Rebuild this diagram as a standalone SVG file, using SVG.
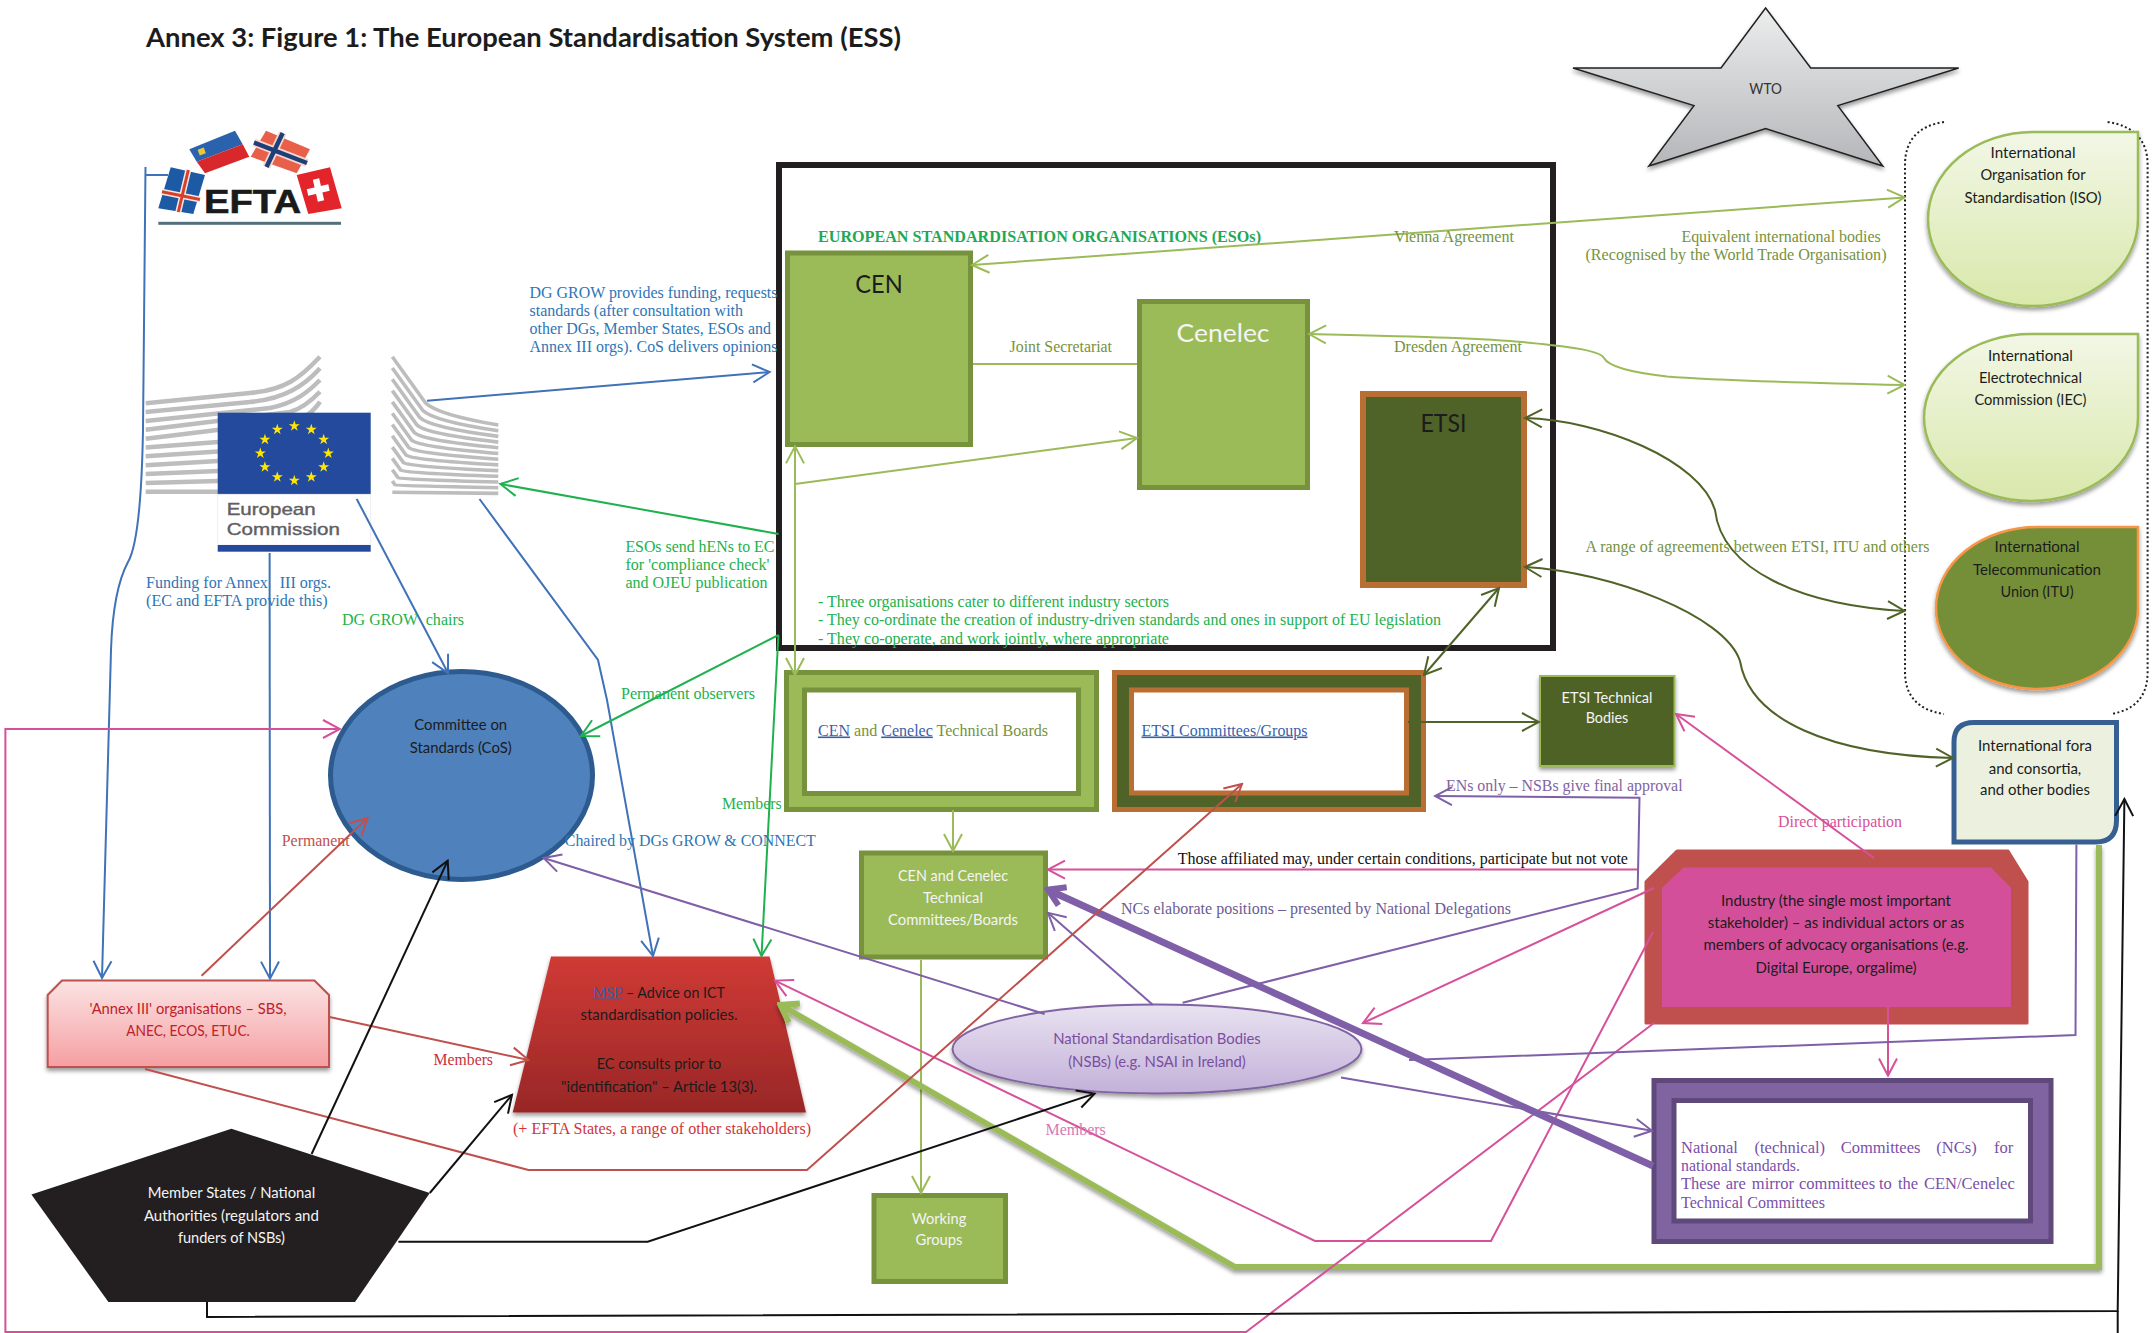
<svg xmlns="http://www.w3.org/2000/svg" width="2154" height="1333" viewBox="0 0 2154 1333">
<style>
text{white-space:pre}
.s{font-family:"Liberation Serif","Times New Roman",serif;font-size:16px}
.l{font-family:Lato,"Noto Sans",sans-serif;font-size:15px}
.m{text-anchor:middle}
.lk{fill:#3a5fa8;text-decoration:underline}
.c{fill:none;stroke-width:2;stroke-linejoin:miter}
.bl{stroke:#3f72b8}.gr{stroke:#1fb14f}.lg{stroke:#9bbb59}.dg{stroke:#4f6228}.pk{stroke:#d6509a}.pu{stroke:#7f5fa8}.rd{stroke:#c0504d}.bk{stroke:#111}
.tb{fill:#2e75b6}.tg{fill:#22b14c}.to{fill:#76923c}.tp{fill:#8064a2}.tr{fill:#c0504d}
.box{fill:#9bbb59;stroke:#76923c;stroke-width:5}
.st{fill:none;stroke:#bdbdbd;stroke-width:4.5}
.sr{fill:none;stroke:#bdbdbd;stroke-width:3.6}
.wt{fill:#f4f4f4}.dk{fill:#1c1c1c}
.ec{font-family:"Liberation Sans",Arial,sans-serif;font-size:17px;fill:#5f6062;stroke:#5f6062;stroke-width:.4}
</style>
<defs>
<linearGradient id="gLight" x1="0" y1="0" x2="0" y2="1"><stop offset="0" stop-color="#f2f7e6"/><stop offset="1" stop-color="#d9e8ab"/></linearGradient>
<linearGradient id="gStar" x1="0" y1="0" x2="0" y2="1"><stop offset="0" stop-color="#eceded"/><stop offset="1" stop-color="#b4b6b9"/></linearGradient>
<linearGradient id="gAnnex" x1="0" y1="0" x2="0" y2="1"><stop offset="0" stop-color="#fbe3e3"/><stop offset="1" stop-color="#f59fa2"/></linearGradient>
<linearGradient id="gMsp" x1="0" y1="0" x2="0" y2="1"><stop offset="0" stop-color="#d03a35"/><stop offset="1" stop-color="#982727"/></linearGradient>
<linearGradient id="gNsb" x1="0" y1="0" x2="0" y2="1"><stop offset="0" stop-color="#e8e2f1"/><stop offset="1" stop-color="#c3b1d9"/></linearGradient>
<filter id="sh" x="-10%" y="-10%" width="120%" height="125%"><feDropShadow dx="0" dy="3" stdDeviation="2" flood-color="#000" flood-opacity="0.4"/></filter>
<path id="eustar" d="M0,-5.8 1.3,-1.8 5.5,-1.8 2.1,.7 3.4,4.7 0,2.2 -3.4,4.7 -2.1,.7 -5.5,-1.8 -1.3,-1.8Z" fill="#ffe600"/>
<marker id="ab" viewBox="-20 -12 22 24" refX="0" refY="0" markerWidth="22" markerHeight="24" markerUnits="userSpaceOnUse" orient="auto-start-reverse"><path d="M-17,-9 L0,0 L-17,9" fill="none" stroke="#3f72b8" stroke-width="2"/></marker>
<marker id="ag" viewBox="-20 -12 22 24" refX="0" refY="0" markerWidth="22" markerHeight="24" markerUnits="userSpaceOnUse" orient="auto-start-reverse"><path d="M-17,-9 L0,0 L-17,9" fill="none" stroke="#1fb14f" stroke-width="2"/></marker>
<marker id="alg" viewBox="-20 -12 22 24" refX="0" refY="0" markerWidth="22" markerHeight="24" markerUnits="userSpaceOnUse" orient="auto-start-reverse"><path d="M-17,-9 L0,0 L-17,9" fill="none" stroke="#9bbb59" stroke-width="2"/></marker>
<marker id="adg" viewBox="-20 -12 22 24" refX="0" refY="0" markerWidth="22" markerHeight="24" markerUnits="userSpaceOnUse" orient="auto-start-reverse"><path d="M-17,-9 L0,0 L-17,9" fill="none" stroke="#4f6228" stroke-width="2"/></marker>
<marker id="ap" viewBox="-20 -12 22 24" refX="0" refY="0" markerWidth="22" markerHeight="24" markerUnits="userSpaceOnUse" orient="auto-start-reverse"><path d="M-17,-9 L0,0 L-17,9" fill="none" stroke="#d6509a" stroke-width="2"/></marker>
<marker id="au" viewBox="-20 -12 22 24" refX="0" refY="0" markerWidth="22" markerHeight="24" markerUnits="userSpaceOnUse" orient="auto-start-reverse"><path d="M-17,-9 L0,0 L-17,9" fill="none" stroke="#7f5fa8" stroke-width="2"/></marker>
<marker id="ar" viewBox="-20 -12 22 24" refX="0" refY="0" markerWidth="22" markerHeight="24" markerUnits="userSpaceOnUse" orient="auto-start-reverse"><path d="M-17,-9 L0,0 L-17,9" fill="none" stroke="#c0504d" stroke-width="2"/></marker>
<marker id="ak" viewBox="-20 -12 22 24" refX="0" refY="0" markerWidth="22" markerHeight="24" markerUnits="userSpaceOnUse" orient="auto-start-reverse"><path d="M-17,-9 L0,0 L-17,9" fill="none" stroke="#111" stroke-width="2"/></marker>
<marker id="aU" viewBox="-20 -14 24 28" refX="0" refY="0" markerWidth="24" markerHeight="28" markerUnits="userSpaceOnUse" orient="auto"><path d="M-16,-10 L0,0 L-16,10" fill="none" stroke="#7f5fa8" stroke-width="6"/></marker>
<marker id="aL" viewBox="-20 -14 24 28" refX="0" refY="0" markerWidth="24" markerHeight="28" markerUnits="userSpaceOnUse" orient="auto"><path d="M-16,-11 L0,0 L-16,11" fill="none" stroke="#9bbb59" stroke-width="6"/></marker>
</defs>
<rect width="2154" height="1333" fill="#fff"/>

<text id="title" x="146" y="47" textLength="755" lengthAdjust="spacingAndGlyphs" font-family="Lato,'Noto Sans',sans-serif" font-weight="700" font-size="27" fill="#1c1c1c">Annex 3: Figure 1: The European Standardisation System (ESS)</text>

<g id="eso-frame"><rect x="779" y="165" width="774" height="483" fill="#fff" stroke="#231f20" stroke-width="6"/>
<text class="s" x="818" y="242" textLength="443" lengthAdjust="spacingAndGlyphs" font-weight="700" fill="#1fa855">EUROPEAN STANDARDISATION ORGANISATIONS (ESOs)</text>
<text class="s tg" x="818" y="607" textLength="351" lengthAdjust="spacingAndGlyphs">- Three organisations cater to different industry sectors</text>
<text class="s tg" x="818" y="625" textLength="623" lengthAdjust="spacingAndGlyphs">- They co-ordinate the creation of industry-driven standards and ones in support of EU legislation</text>
<text class="s tg" x="818" y="644" textLength="351" lengthAdjust="spacingAndGlyphs">- They co-operate, and work jointly, where appropriate</text>
</g>

<g id="efta">
<polygon points="189.3,149.3 235,130.7 242.7,144.3 196.7,161.7" fill="#2a62ae"/>
<polygon points="196.7,161.7 242.7,144.3 249.3,156.7 205,173.3" fill="#d8282c"/>
<rect x="198.5" y="148.5" width="6.5" height="6" fill="#e5c93a" transform="rotate(-20 201.7 151.5)"/>
<polygon points="250.7,156.7 266,130.7 310,149.3 296.7,173.3" fill="#e8604a"/>
<path d="M282.7,133 266.5,167 M254,142.500 307,163" stroke="#f6d8d0" stroke-width="8" fill="none"/>
<path d="M282.7,133 266.5,167 M254,142.500 307,163" stroke="#1f3f78" stroke-width="4.500" fill="none"/>
<polygon points="170.700,167.300 205,175 193.300,214 158.300,208.300" fill="#1c5aa6"/>
<path d="M188.300,170 178.300,212 M162,191.700 200,199.500" stroke="#f6e6e0" stroke-width="6" fill="none"/>
<path d="M188.300,170 178.300,212 M162,191.700 200,199.500" stroke="#d8402c" stroke-width="3" fill="none"/>
<polygon points="296.700,175 330,167.300 341.700,208.300 308.300,214" fill="#e3242b"/>
<path d="M307.500,192.500 329,187.500 M316,179 321,201" stroke="#fff" stroke-width="6.500" fill="none"/>
<text x="204" y="213.300" textLength="97" lengthAdjust="spacingAndGlyphs" font-family="'Liberation Sans',Arial,sans-serif" font-weight="700" font-size="33" fill="#1a1a1a" stroke="#1a1a1a" stroke-width=".6">EFTA</text>
<rect x="158.300" y="221.800" width="182.700" height="3" fill="#54707a"/>
</g>

<g id="european-commission">
<path class="st" d="M145.700,403.300L250,393C285,390 300,378 320,356.700"/>
<path class="st" d="M145.700,412.100L250,402C285,399 305,385 320,368.300"/>
<path class="st" d="M145.700,421L270,408C295,403 308,392 320,380"/>
<path class="st" d="M145.700,429.800L290,412C300,409 312,400 320,391.700"/>
<path class="st" d="M145.700,438.700L300,420C310,414 316,408 320,401.700"/>
<path class="st" d="M145.700,447.500L218,442M145.700,456.300L218,451.500M145.700,465.200L218,461M145.700,474L218,471M145.700,482.900L218,481M145.700,491.700H218"/>
<path class="sr" d="M392.300,356.700L425.300,402.700Q437.300,414.700 498.300,425"/>
<path class="sr" d="M392.300,368L422.600,410.200Q433.600,421.200 498.300,430.700"/>
<path class="sr" d="M392.300,379.300L419.800,417.600Q429.800,427.600 498.300,436.400"/>
<path class="sr" d="M392.300,390.600L417,425.100Q426,434.100 498.300,442.100"/>
<path class="sr" d="M392.300,401.900L414.300,432.600Q422.300,440.600 498.300,447.800"/>
<path class="sr" d="M392.300,413.200L411.500,440Q418.500,447 498.300,453.500"/>
<path class="sr" d="M392.300,424.500L408.800,447.500Q414.800,453.500 498.300,459.200"/>
<path class="sr" d="M392.300,435.800L406,455Q411,459.900 498.300,464.900"/>
<path class="sr" d="M392.300,447.100L403.300,462.400Q407.300,466.400 498.300,470.600"/>
<path class="sr" d="M392.300,458.400L400.500,469.900Q403.500,472.900 498.300,476.300"/>
<path class="sr" d="M392.300,469.700L397.800,477.400Q399.800,479.400 498.300,482"/>
<path class="sr" d="M392.300,481L395,484.800Q396,485.800 498.300,487.700"/>
<path class="sr" d="M392.300,492.300L498.300,493.400"/>
<rect x="217.700" y="412.700" width="153" height="81.600" fill="#234a9c"/>
<rect x="217.700" y="494.300" width="153" height="50.700" fill="#fff" stroke="#e8e8f0" stroke-width=".8"/>
<rect x="217.700" y="545" width="153" height="6.700" fill="#234a9c"/>
<use href="#eustar" x="294.300" y="426"/><use href="#eustar" x="311.300" y="429.600"/><use href="#eustar" x="323.700" y="439.600"/><use href="#eustar" x="328.300" y="453.300"/><use href="#eustar" x="323.700" y="467"/><use href="#eustar" x="311.300" y="477"/><use href="#eustar" x="294.300" y="480.600"/><use href="#eustar" x="277.300" y="477"/><use href="#eustar" x="264.900" y="467"/><use href="#eustar" x="260.300" y="453.300"/><use href="#eustar" x="264.900" y="439.600"/><use href="#eustar" x="277.300" y="429.600"/>
<text class="ec" x="226.700" y="515" textLength="89" lengthAdjust="spacingAndGlyphs">European</text>
<text class="ec" x="226.700" y="535" textLength="113.300" lengthAdjust="spacingAndGlyphs">Commission</text>
</g>

<g id="wto"><polygon points="1765.600,8 1810.700,68 1958.700,68 1837.800,105.600 1882.800,166 1765.600,128.600 1648.900,166 1694,105.600 1573,68 1721,68" fill="url(#gStar)" stroke="#222" stroke-width="1.500" filter="url(#sh)"/>
<text class="l m" x="1765.600" y="94" textLength="32.500" lengthAdjust="spacingAndGlyphs" fill="#333">WTO</text></g>

<g id="intl-bracket"><path d="M1944,122Q1905,128 1905,165V672Q1905,708 1944,714M2107.600,122Q2147.600,128 2147.600,165V672Q2147.600,708 2111,714" fill="none" stroke="#222" stroke-width="2" stroke-dasharray="2 2.500"/></g>

<g id="iso"><path d="M2033,132H2138V219A105,87 0 1 1 2033,132Z" fill="url(#gLight)" stroke="#9bbb59" stroke-width="2.500" filter="url(#sh)"/>
<text class="l m dk" x="2033" y="158.400" textLength="85" lengthAdjust="spacingAndGlyphs">International</text>
<text class="l m dk" x="2033" y="180.400" textLength="105" lengthAdjust="spacingAndGlyphs">Organisation for</text>
<text class="l m dk" x="2033" y="203.400" textLength="137" lengthAdjust="spacingAndGlyphs">Standardisation (ISO)</text></g>
<g id="iec"><path d="M2031,334H2138V418A107,83.500 0 1 1 2031,334Z" fill="url(#gLight)" stroke="#9bbb59" stroke-width="2.500" filter="url(#sh)"/>
<text class="l m dk" x="2030.400" y="361" textLength="85" lengthAdjust="spacingAndGlyphs">International</text>
<text class="l m dk" x="2030.400" y="383.400" textLength="103" lengthAdjust="spacingAndGlyphs">Electrotechnical</text>
<text class="l m dk" x="2030.400" y="405.400" textLength="112" lengthAdjust="spacingAndGlyphs">Commission (IEC)</text></g>
<g id="itu"><path d="M2037,527H2138V608A101,81 0 1 1 2037,527Z" fill="#748f38" stroke="#f79646" stroke-width="2.500" filter="url(#sh)"/>
<text class="l m dk" x="2037" y="552" textLength="85" lengthAdjust="spacingAndGlyphs">International</text>
<text class="l m dk" x="2037" y="575" textLength="128" lengthAdjust="spacingAndGlyphs">Telecommunication</text>
<text class="l m dk" x="2037" y="597" textLength="73" lengthAdjust="spacingAndGlyphs">Union (ITU)</text></g>

<g id="cen"><rect class="box" x="787.500" y="253" width="183" height="191.500"/>
<text class="l m dk" x="879" y="293" style="font-size:25px" textLength="47.500" lengthAdjust="spacingAndGlyphs">CEN</text></g>
<g id="cenelec"><rect class="box" x="1139.500" y="301.500" width="168" height="186"/>
<text class="l m" x="1223" y="342" style="font-size:25px" fill="#f4f4f4" textLength="93" lengthAdjust="spacingAndGlyphs">Cenelec</text></g>
<g id="etsi"><rect x="1363" y="394" width="161" height="191" fill="#4f6228" stroke="#b96f33" stroke-width="6"/>
<text class="l m dk" x="1443.500" y="432" style="font-size:25px" textLength="46" lengthAdjust="spacingAndGlyphs">ETSI</text></g>

<g id="tech-boards"><rect class="box" x="786.500" y="672.500" width="310" height="137"/>
<rect x="804.500" y="690" width="274" height="103.500" fill="#fff" stroke="#76923c" stroke-width="5"/>
<text class="s to" x="818" y="735.500" textLength="230" lengthAdjust="spacingAndGlyphs"><tspan class="lk">CEN</tspan> and <tspan class="lk">Cenelec</tspan> Technical Boards</text></g>
<g id="etsi-committees"><rect x="1114.500" y="672.500" width="309" height="137" fill="#4f6228" stroke="#b96f33" stroke-width="5"/>
<rect x="1131.500" y="690" width="275" height="103" fill="#fff" stroke="#b96f33" stroke-width="5"/>
<text class="s lk" x="1141.500" y="735.500" textLength="166" lengthAdjust="spacingAndGlyphs">ETSI Committees/Groups</text></g>
<g id="etsi-bodies"><rect x="1540" y="676" width="134.500" height="90" fill="#4f6228" stroke="#9bbb59" stroke-width="2" filter="url(#sh)"/>
<text class="l m wt" x="1607" y="702.500" textLength="91" lengthAdjust="spacingAndGlyphs">ETSI Technical</text>
<text class="l m wt" x="1607" y="723.400" textLength="42.700" lengthAdjust="spacingAndGlyphs">Bodies</text></g>
<g id="tech-committees"><rect class="box" x="861.500" y="853" width="184" height="104"/>
<text class="l m wt" x="953" y="880.500" textLength="110" lengthAdjust="spacingAndGlyphs">CEN and Cenelec</text>
<text class="l m wt" x="953" y="903" textLength="60" lengthAdjust="spacingAndGlyphs">Technical</text>
<text class="l m wt" x="953" y="925" textLength="130" lengthAdjust="spacingAndGlyphs">Committees/Boards</text></g>
<g id="working-groups"><rect class="box" x="874" y="1195.500" width="131.500" height="86"/>
<text class="l m wt" x="939" y="1223.600" textLength="54.500" lengthAdjust="spacingAndGlyphs">Working</text>
<text class="l m wt" x="939" y="1245" textLength="47" lengthAdjust="spacingAndGlyphs">Groups</text></g>

<g id="cos"><ellipse cx="461.500" cy="775.500" rx="131" ry="104" fill="#4f81bd" stroke="#2d5b8f" stroke-width="5"/>
<text class="l m dk" x="460.700" y="730" textLength="93" lengthAdjust="spacingAndGlyphs">Committee on</text>
<text class="l m dk" x="460.700" y="752.500" textLength="102" lengthAdjust="spacingAndGlyphs">Standards (CoS)</text></g>

<g id="annex3"><polygon points="62,980.600 314.400,980.600 329,995 329,1067 47.700,1067 47.700,995" fill="url(#gAnnex)" stroke="#c0504d" stroke-width="2" filter="url(#sh)"/>
<text class="l m" fill="#c0202a" x="188" y="1014" textLength="197" lengthAdjust="spacingAndGlyphs">'Annex III' organisations – SBS,</text>
<text class="l m" fill="#c0202a" x="188" y="1036" textLength="123.600" lengthAdjust="spacingAndGlyphs">ANEC, ECOS, ETUC.</text></g>

<g id="msp"><polygon points="551,956.400 769.600,956.400 806,1112.600 512.700,1112.600" fill="url(#gMsp)" filter="url(#sh)"/>
<text class="l m dk" x="659" y="997.500" textLength="131.700" lengthAdjust="spacingAndGlyphs"><tspan class="lk">MSP</tspan> – Advice on ICT</text>
<text class="l m dk" x="659" y="1019.700" textLength="157" lengthAdjust="spacingAndGlyphs">standardisation policies.</text>
<text class="l m dk" x="659" y="1068.600" textLength="124.700" lengthAdjust="spacingAndGlyphs">EC consults prior to</text>
<text class="l m dk" x="659" y="1091.600" textLength="196" lengthAdjust="spacingAndGlyphs">"identification" – Article 13(3).</text></g>

<g id="member-states"><polygon points="231.400,1128.700 429.800,1193 355,1302 108.400,1302 31.400,1194.500" fill="#231f20"/>
<text class="l m wt" x="231.400" y="1197.800" textLength="167.500" lengthAdjust="spacingAndGlyphs">Member States / National</text>
<text class="l m wt" x="231.400" y="1220.800" textLength="175" lengthAdjust="spacingAndGlyphs">Authorities (regulators and</text>
<text class="l m wt" x="231.400" y="1243" textLength="107" lengthAdjust="spacingAndGlyphs">funders of NSBs)</text></g>

<g id="nsb"><ellipse cx="1157" cy="1049" rx="204.500" ry="44.400" fill="url(#gNsb)" stroke="#8064a2" stroke-width="2" filter="url(#sh)"/>
<text class="l m" fill="#7a4fa0" x="1157" y="1044" textLength="207.600" lengthAdjust="spacingAndGlyphs">National Standardisation Bodies</text>
<text class="l m" fill="#7a4fa0" x="1157" y="1066.600" textLength="177.700" lengthAdjust="spacingAndGlyphs">(NSBs) (e.g. NSAI in Ireland)</text></g>

<g id="industry"><polygon points="1677,851 2008,851 2027,881.700 2027,1023 1646,1023 1646,881.700" fill="#c0504d" stroke="#c0504d" stroke-width="3" stroke-linejoin="round"/>
<polygon points="1683.500,867.500 1991,867.500 2011,887.700 2011,1007 1662,1007 1662,887.700" fill="#d44f9a"/>
<text class="l m dk" x="1836" y="906" textLength="230" lengthAdjust="spacingAndGlyphs">Industry (the single most important</text>
<text class="l m dk" x="1836" y="927.700" textLength="256.400" lengthAdjust="spacingAndGlyphs">stakeholder) – as individual actors or as</text>
<text class="l m dk" x="1836" y="950.300" textLength="265" lengthAdjust="spacingAndGlyphs">members of advocacy organisations (e.g.</text>
<text class="l m dk" x="1836" y="972.500" textLength="161" lengthAdjust="spacingAndGlyphs">Digital Europe, orgalime)</text></g>

<g id="national-committees"><rect x="1654" y="1080.500" width="397" height="161" fill="#8064a2" stroke="#5f497a" stroke-width="5"/>
<rect x="1674" y="1100.500" width="356.500" height="120.500" fill="#fff" stroke="#5f497a" stroke-width="5"/>
<text class="s" fill="#7a4fa8" style="font-size:16.500px" y="1153"><tspan x="1681">National</tspan><tspan x="1754.500">(technical)</tspan><tspan x="1840.700">Committees</tspan><tspan x="1936.300">(NCs)</tspan><tspan x="1994">for</tspan></text>
<text class="s" fill="#7a4fa8" style="font-size:16.500px" x="1681" y="1171" textLength="119" lengthAdjust="spacingAndGlyphs">national standards.</text>
<text class="s" fill="#7a4fa8" style="font-size:16.500px" y="1189"><tspan x="1681">These</tspan><tspan x="1725.700">are</tspan><tspan x="1751.800">mirror</tspan><tspan x="1799">committees</tspan><tspan x="1879">to</tspan><tspan x="1898">the</tspan><tspan x="1924">CEN/Cenelec</tspan></text>
<text class="s" fill="#7a4fa8" style="font-size:16.500px" x="1681" y="1208" textLength="144" lengthAdjust="spacingAndGlyphs">Technical Committees</text></g>

<g id="intl-fora"><path d="M1974,722.500H2116.500V820Q2116.500,842 2096,842H1954V742Q1954,722.500 1974,722.500Z" fill="#ebf1de" stroke="#366092" stroke-width="5"/>
<text class="l m dk" x="2035" y="750.500" textLength="114" lengthAdjust="spacingAndGlyphs">International fora</text>
<text class="l m dk" x="2035" y="773.500" textLength="92.500" lengthAdjust="spacingAndGlyphs">and consortia,</text>
<text class="l m dk" x="2035" y="795.300" textLength="110" lengthAdjust="spacingAndGlyphs">and other bodies</text></g>

<g id="connectors">
<path class="c bl" d="M145.500,167L143,430Q141,540 128,562Q113,590 111,650L102,978" marker-end="url(#ab)"/>
<path class="c bl" d="M168,175H145.500"/>
<path class="c bl" d="M269.600,553L270,978.600" marker-end="url(#ab)"/>
<path class="c bl" d="M427,400.700L769.600,372" marker-end="url(#ab)"/>
<path class="c bl" d="M356.700,499L448,673" marker-end="url(#ab)"/>
<path class="c bl" d="M479.500,499L598,660L607,700L653,956" marker-end="url(#ab)"/>
<path class="c gr" d="M778.600,534L500.400,484" marker-end="url(#ag)"/>
<path class="c gr" d="M778.600,635L581,736" marker-end="url(#ag)"/>
<path class="c gr" d="M778.400,635L761.500,956" marker-end="url(#ag)"/>
<path class="c lg" d="M795,446.400V675" marker-start="url(#alg)" marker-end="url(#alg)"/>
<path class="c lg" d="M795,484L1137,438" marker-end="url(#alg)"/>
<path class="c lg" d="M973,364H1137"/>
<path class="c lg" d="M972,265L1904.500,197.400" marker-start="url(#alg)" marker-end="url(#alg)"/>
<path class="c lg" d="M1309,334C1400,336 1500,338 1550,345Q1600,350 1604,358Q1610,370 1667,376.500Q1720,381 1904.500,385" marker-start="url(#alg)" marker-end="url(#alg)"/>
<path class="c lg" d="M953,810V851" marker-end="url(#alg)"/>
<path class="c lg" d="M921,960V1193" marker-end="url(#alg)"/>
<path d="M2099,845V1267H1235L780.500,1005" fill="none" stroke="#9bbb59" stroke-width="6" marker-end="url(#aL)" filter="url(#sh)"/>
<path class="c dg" d="M1525,418C1600,420 1700,460 1715,510C1722,570 1800,605 1904.500,611" marker-start="url(#adg)" marker-end="url(#adg)"/>
<path class="c dg" d="M1525,567C1610,572 1725,615 1740,661C1750,720 1830,755 1953,758" marker-start="url(#adg)" marker-end="url(#adg)"/>
<path class="c dg" d="M1408,722H1539" marker-end="url(#adg)"/>
<path class="c dg" d="M1499,588L1424,675" marker-start="url(#adg)" marker-end="url(#adg)"/>
<path class="c pk" d="M1654,1023L1246,1332H5.400V729H340" marker-end="url(#ap)"/>
<path class="c pk" d="M1653,932L1491,1241H1315L775,980.600" marker-end="url(#ap)"/>
<path class="c pk" d="M1654,888L1363,1023" marker-end="url(#ap)"/>
<path class="c pk" d="M1874,858L1676,714" marker-end="url(#ap)"/>
<path class="c pk" d="M1638.600,869.600H1048" marker-end="url(#ap)"/>
<path class="c pk" d="M1888,1007V1075.500" marker-end="url(#ap)"/>
<path class="c pu" d="M1182.600,1002.800L1637.700,888.500L1639.500,797.700L1435,796" marker-end="url(#au)"/>
<path class="c pu" d="M1152.700,1004.800L1048,912.800" marker-end="url(#au)"/>
<path class="c pu" d="M1044.600,1014L543.600,858" marker-end="url(#au)"/>
<path class="c pu" d="M1341,1077.500L1652,1130.800" marker-end="url(#au)"/>
<path class="c pu" d="M2076.400,844.500L2075.500,1035L1409,1060"/>
<path d="M1653,1166L1048,889.700" fill="none" stroke="#7f5fa8" stroke-width="7" marker-end="url(#aU)"/>
<path class="c rd" d="M145,1069L528.500,1170H807L1242,784" marker-end="url(#ar)"/>
<path class="c rd" d="M201.600,975.700L367.500,818" marker-end="url(#ar)"/>
<path class="c rd" d="M329.500,1017L528.500,1060" marker-end="url(#ar)"/>
<path class="c bk" d="M311.600,1154L447.700,860.700" marker-end="url(#ak)"/>
<path class="c bk" d="M429.800,1193L512,1094.800" marker-end="url(#ak)"/>
<path class="c bk" d="M398.400,1241.800H647.700L1094.600,1093.600" marker-end="url(#ak)"/>
<path class="c bk" d="M207,1302V1317L2117.700,1311L2124.400,799" marker-end="url(#ak)"/>
<path class="c bk" d="M2117.700,1311V1333" stroke-width="1.500"/>
</g>

<g id="labels">
<text class="s tb" x="529.500" y="297.500" textLength="248" lengthAdjust="spacingAndGlyphs">DG GROW provides funding, requests</text>
<text class="s tb" x="529.500" y="316" textLength="213.500" lengthAdjust="spacingAndGlyphs">standards (after consultation with</text>
<text class="s tb" x="529.500" y="334" textLength="241.500" lengthAdjust="spacingAndGlyphs">other DGs, Member States, ESOs and</text>
<text class="s tb" x="529.500" y="352" textLength="248" lengthAdjust="spacingAndGlyphs">Annex III orgs). CoS delivers opinions</text>
<text class="s tg" x="625.400" y="552" textLength="149" lengthAdjust="spacingAndGlyphs">ESOs send hENs to EC</text>
<text class="s tg" x="625.400" y="570" textLength="144" lengthAdjust="spacingAndGlyphs">for 'compliance check'</text>
<text class="s tg" x="625.400" y="587.500" textLength="142" lengthAdjust="spacingAndGlyphs">and OJEU publication</text>
<text class="s tb" x="146" y="587.500" textLength="185" lengthAdjust="spacingAndGlyphs">Funding for Annex   III orgs.</text>
<text class="s tb" x="146" y="606.400" textLength="181.700" lengthAdjust="spacingAndGlyphs">(EC and EFTA provide this)</text>
<text class="s tg" x="342" y="625" textLength="122" lengthAdjust="spacingAndGlyphs">DG GROW  chairs</text>
<text class="s to" x="1394" y="242" textLength="120" lengthAdjust="spacingAndGlyphs">Vienna Agreement</text>
<text class="s to" x="1009.600" y="352" textLength="102.400" lengthAdjust="spacingAndGlyphs">Joint Secretariat</text>
<text class="s to" x="1394" y="352" textLength="128" lengthAdjust="spacingAndGlyphs">Dresden Agreement</text>
<text class="s to" x="1681.400" y="242" textLength="199.300" lengthAdjust="spacingAndGlyphs">Equivalent international bodies</text>
<text class="s to" x="1585.500" y="260" textLength="301" lengthAdjust="spacingAndGlyphs">(Recognised by the World Trade Organisation)</text>
<text class="s to" x="1585.500" y="552" textLength="344" lengthAdjust="spacingAndGlyphs">A range of agreements between ETSI, ITU and others</text>
<text class="s tg" x="621" y="699" textLength="134" lengthAdjust="spacingAndGlyphs">Permanent observers</text>
<text class="s tg" x="722" y="809" textLength="59.600" lengthAdjust="spacingAndGlyphs">Members</text>
<text class="s tb" x="564.800" y="846" textLength="251" lengthAdjust="spacingAndGlyphs">Chaired by DGs GROW &amp; CONNECT</text>
<text class="s tr" x="281.800" y="846" textLength="67.800" lengthAdjust="spacingAndGlyphs">Permanent</text>
<text class="s" fill="#c8303a" x="433.600" y="1065" textLength="59.400" lengthAdjust="spacingAndGlyphs">Members</text>
<text class="s" fill="#d0343a" x="513" y="1134" textLength="298" lengthAdjust="spacingAndGlyphs">(+ EFTA States, a range of other stakeholders)</text>
<text class="s" fill="#d678b4" x="1045.500" y="1135" textLength="60.300" lengthAdjust="spacingAndGlyphs">Members</text>
<text class="s tp" x="1446" y="791" textLength="236.600" lengthAdjust="spacingAndGlyphs">ENs only – NSBs give final approval</text>
<text class="s" fill="#111" x="1177.700" y="863.500" textLength="450.300" lengthAdjust="spacingAndGlyphs">Those affiliated may, under certain conditions, participate but not vote</text>
<text class="s" fill="#6b5b95" x="1121" y="914" textLength="390" lengthAdjust="spacingAndGlyphs">NCs elaborate positions – presented by National Delegations</text>
<text class="s" fill="#d6509a" x="1778" y="827" textLength="124" lengthAdjust="spacingAndGlyphs">Direct participation</text>
</g>
</svg>
